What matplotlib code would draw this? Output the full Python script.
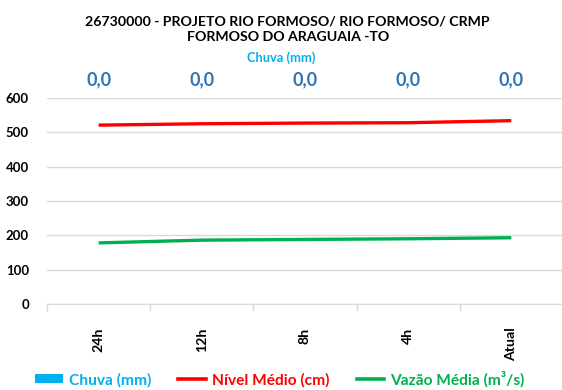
import matplotlib
matplotlib.use("Agg")
import matplotlib.pyplot as plt
from matplotlib.patches import Patch
from matplotlib.lines import Line2D
import matplotlib.transforms as mtransforms
import numpy as np

categories = ["24h", "12h", "8h", "4h", "Atual"]
chuva = [0.0, 0.0, 0.0, 0.0, 0.0]
nivel = [521, 525, 527, 528, 534]
vazao = [178, 186, 188, 190, 193]
yticks = [0, 100, 200, 300, 400, 500, 600]

title = "26730000 - PROJETO RIO FORMOSO/ RIO FORMOSO/ CRMP\nFORMOSO DO ARAGUAIA -TO"

plt.rcParams["font.family"] = ["Lato", "DejaVu Sans"]

C_CHUVA = "#00B0F0"
C_LABEL = "#2E75B6"
C_NIVEL = "#FF0000"
C_VAZAO = "#00B050"

fig = plt.figure(figsize=(5.62, 3.90), dpi=100)
ax = fig.add_axes([0.0836, 0.2205, 0.918, 0.5282])

x = np.arange(len(categories))

# rainfall bars on a secondary scale
ax2 = ax.twinx()
ax2.bar(x, chuva, width=0.5, color=C_CHUVA)
ax2.set_ylim(0, 10)
ax2.axis("off")

ax.plot(x, nivel, color=C_NIVEL, lw=2.4, solid_capstyle="butt", zorder=3)
ax.plot(x, vazao, color=C_VAZAO, lw=2.4, solid_capstyle="butt", zorder=3)

ax.set_xlim(-0.5, len(categories) - 0.5)
ax.set_ylim(0, 600)
ax.set_yticks(yticks)
ax.set_yticklabels([str(v) for v in yticks], fontsize=9.5, fontweight="bold")
ax.tick_params(axis="y", length=0, pad=13)
ax.yaxis.grid(True, color="#D9D9D9", lw=1)
ax.set_axisbelow(True)

ax.set_xticks(x)
ax.set_xticklabels(categories, rotation=90, fontsize=10.2, fontweight="bold")
ax.tick_params(axis="x", which="major", length=0, pad=17)
ax.set_xticks(np.arange(-0.5, len(categories), 1.0), minor=True)
ax.tick_params(axis="x", which="minor", length=5, color="#D9D9D9", width=1)

for s in ["left", "right", "top"]:
    ax.spines[s].set_visible(False)
ax.spines["bottom"].set_color("#D9D9D9")

# rainfall value labels
trans = mtransforms.blended_transform_factory(ax.transData, ax.transAxes)
for xi, v in zip(x, chuva):
    ax.text(xi, 1.087, f"{v:.1f}".replace(".", ","), transform=trans,
            ha="center", va="center", fontsize=13, fontweight="bold", color=C_LABEL)

fig.text(0.512, 0.925, title, ha="center", va="center", fontsize=10.2,
         fontweight="bold", color="#000000", linespacing=1.35)
fig.text(0.50, 0.851, "Chuva (mm)", ha="center", va="center", fontsize=9.3,
         fontweight="bold", color=C_CHUVA)

handles = [
    Patch(facecolor=C_CHUVA, edgecolor="none"),
    Line2D([0], [0], color=C_NIVEL, lw=2.6),
    Line2D([0], [0], color=C_VAZAO, lw=2.6),
]
labels = ["Chuva (mm)", "Nível Médio (cm)", "Vazão Média (m³/s)"]
leg = fig.legend(handles, labels, loc="center", bbox_to_anchor=(0.498, 0.028),
                 ncol=3, frameon=False, prop={"weight": "bold", "size": 11.2},
                 handlelength=1.75, handleheight=0.55, columnspacing=1.75,
                 handletextpad=0.4)
for t, c in zip(leg.get_texts(), [C_CHUVA, C_NIVEL, C_VAZAO]):
    t.set_color(c)

fig.savefig("out.png", dpi=100)
